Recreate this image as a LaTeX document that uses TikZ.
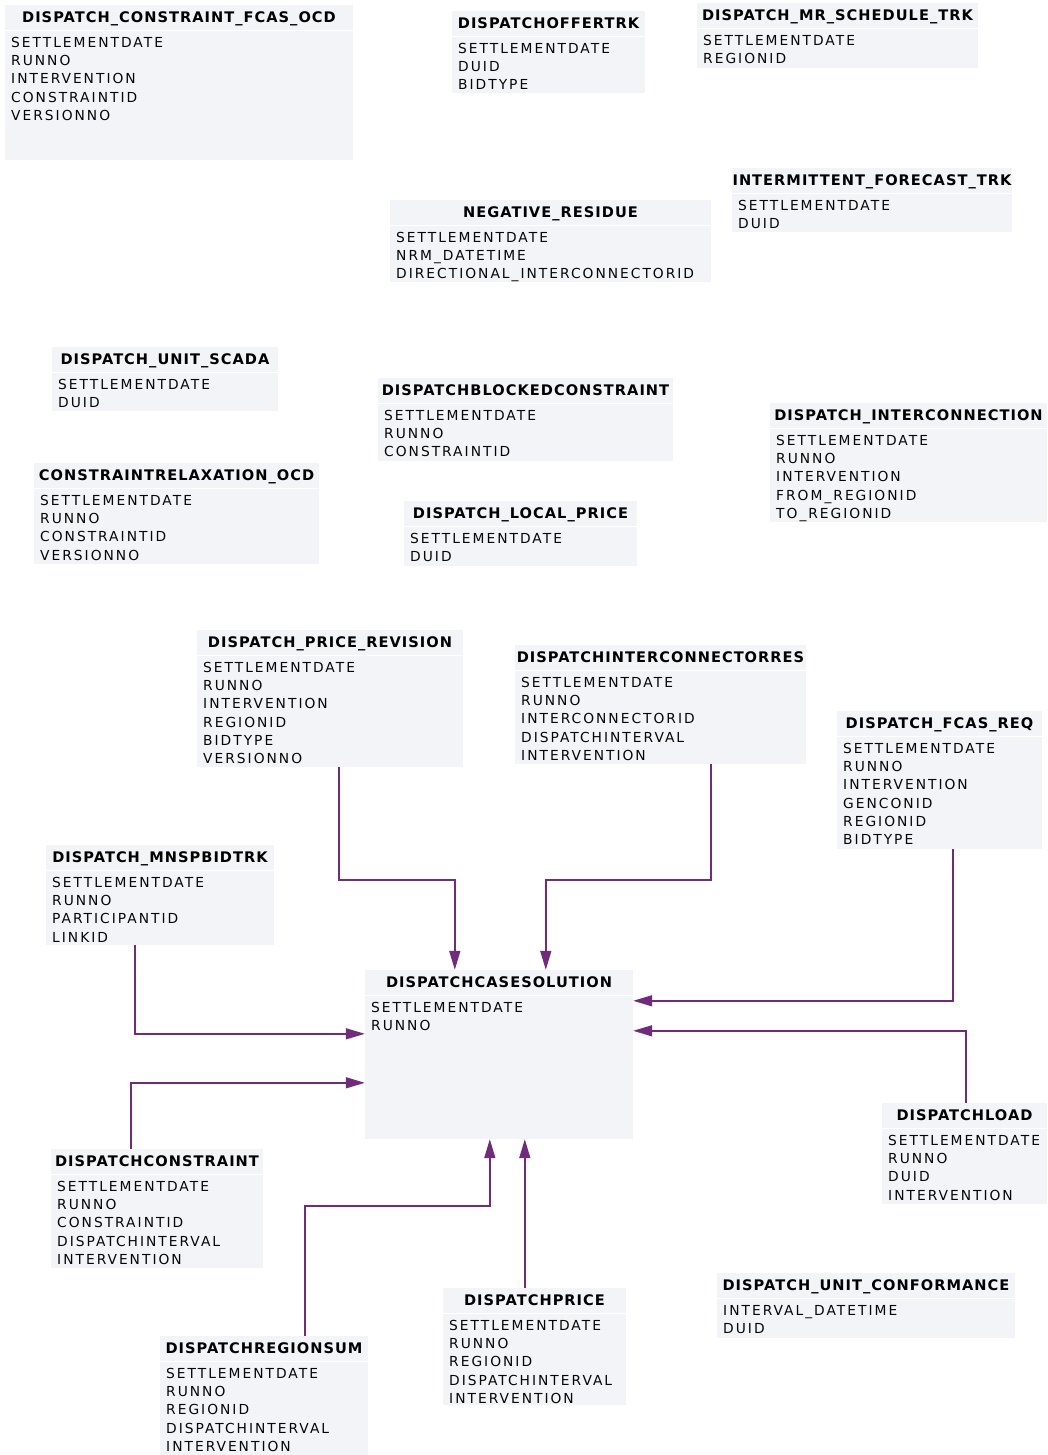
\documentclass[tikz,border=0pt]{standalone}
\usepackage{fontspec}
\setmainfont{DejaVu Sans}
\newfontfamily\fldfont{DejaVu Sans}[LetterSpace=14.5]
\newfontfamily\ttlfont{DejaVu Sans}[LetterSpace=7]
\usetikzlibrary{arrows.meta,fit}
\definecolor{tblbg}{RGB}{243,244,248}
\definecolor{linkc}{RGB}{112,44,122}
\definecolor{fldc}{RGB}{5,5,5}
\tikzset{
  ttl/.style={inner sep=0, text height=10.6pt, text depth=0pt, font=\ttlfont\bfseries\fontsize{14.6}{17}\selectfont, text=black},
  fld/.style={anchor=west, inner sep=0, text height=10pt, text depth=0pt, font=\fldfont\fontsize{13.8}{16}\selectfont, text=fldc},
  link/.style={draw=linkc, line width=1.5pt, -{Triangle[length=19pt,width=11pt]}},
}
\newcommand\erbox[7]{%
  \fill[tblbg] (#2,#3) rectangle (#4,#5);
  \node[inner sep=0, fit={(#2,#3) (#4,#5)}] (#1) {};
  \draw[white, line width=1.5pt] (#2,#3+25.5) -- (#4,#3+25.5);
  \node[ttl] (#1-t) at ({(#2+#4)/2},#3+12.5) {#6};
  \foreach \f [count=\i from 0] in {#7} {\node[fld] (#1-\i) at (#2+6,{#3+37.5+18.2*\i}) {\f};}
}
\begin{document}
\begin{tikzpicture}[x=1pt,y=-1pt]
\useasboundingbox (0,0) rectangle (1047,1455);
\erbox{ocd}{5}{5}{353}{160}{DISPATCH\_CONSTRAINT\_FCAS\_OCD}{SETTLEMENTDATE,RUNNO,INTERVENTION,CONSTRAINTID,VERSIONNO}
\erbox{offer}{452}{11}{645}{93}{DISPATCHOFFERTRK}{SETTLEMENTDATE,DUID,BIDTYPE}
\erbox{mrs}{697}{3}{978}{68}{DISPATCH\_MR\_SCHEDULE\_TRK}{SETTLEMENTDATE,REGIONID}
\erbox{ift}{732}{168}{1012}{232}{INTERMITTENT\_FORECAST\_TRK}{SETTLEMENTDATE,DUID}
\erbox{nr}{390}{200}{711}{282}{NEGATIVE\_RESIDUE}{SETTLEMENTDATE,NRM\_DATETIME,DIRECTIONAL\_INTERCONNECTORID}
\erbox{scada}{52}{347}{278}{411}{DISPATCH\_UNIT\_SCADA}{SETTLEMENTDATE,DUID}
\erbox{blk}{378}{378}{673}{461}{DISPATCHBLOCKEDCONSTRAINT}{SETTLEMENTDATE,RUNNO,CONSTRAINTID}
\erbox{ic}{770}{403}{1047}{522}{DISPATCH\_INTERCONNECTION}{SETTLEMENTDATE,RUNNO,INTERVENTION,FROM\_REGIONID,TO\_REGIONID}
\erbox{crx}{34}{463}{319}{564}{CONSTRAINTRELAXATION\_OCD}{SETTLEMENTDATE,RUNNO,CONSTRAINTID,VERSIONNO}
\erbox{lp}{404}{501}{637}{566}{DISPATCH\_LOCAL\_PRICE}{SETTLEMENTDATE,DUID}
\erbox{pr}{197}{630}{463}{767}{DISPATCH\_PRICE\_REVISION}{SETTLEMENTDATE,RUNNO,INTERVENTION,REGIONID,BIDTYPE,VERSIONNO}
\erbox{icr}{515}{645}{806}{764}{DISPATCHINTERCONNECTORRES}{SETTLEMENTDATE,RUNNO,INTERCONNECTORID,DISPATCHINTERVAL,INTERVENTION}
\erbox{fcr}{837}{711}{1042}{849}{DISPATCH\_FCAS\_REQ}{SETTLEMENTDATE,RUNNO,INTERVENTION,GENCONID,REGIONID,BIDTYPE}
\erbox{mnsp}{46}{845}{274}{945}{DISPATCH\_MNSPBIDTRK}{SETTLEMENTDATE,RUNNO,PARTICIPANTID,LINKID}
\erbox{cs}{365}{970}{633}{1139}{DISPATCHCASESOLUTION}{SETTLEMENTDATE,RUNNO}
\erbox{load}{882}{1103}{1047}{1204}{DISPATCHLOAD}{SETTLEMENTDATE,RUNNO,DUID,INTERVENTION}
\erbox{dc}{51}{1149}{263}{1268}{DISPATCHCONSTRAINT}{SETTLEMENTDATE,RUNNO,CONSTRAINTID,DISPATCHINTERVAL,INTERVENTION}
\erbox{conf}{717}{1273}{1015}{1338}{DISPATCH\_UNIT\_CONFORMANCE}{INTERVAL\_DATETIME,DUID}
\erbox{dp}{443}{1288}{626}{1405}{DISPATCHPRICE}{SETTLEMENTDATE,RUNNO,REGIONID,DISPATCHINTERVAL,INTERVENTION}
\erbox{rs}{160}{1336}{368}{1455}{DISPATCHREGIONSUM}{SETTLEMENTDATE,RUNNO,REGIONID,DISPATCHINTERVAL,INTERVENTION}
\draw[link] ([xshift=142pt]pr.south west) -- ++(0,113) -| ([xshift=90pt]cs.north west);
\draw[link] ([xshift=196pt]icr.south west) -- ++(0,116) -| ([xshift=181pt]cs.north west);
\draw[link] ([xshift=116pt]fcr.south west) |- ([yshift=-31pt]cs.north east);
\draw[link] ([xshift=84pt]load.north west) |- ([yshift=-61pt]cs.north east);
\draw[link] ([xshift=89pt]mnsp.south west) |- ([yshift=-64pt]cs.north west);
\draw[link] ([xshift=80pt]dc.north west) |- ([yshift=-113pt]cs.north west);
\draw[link] ([xshift=145pt]rs.north west) -- ++(0,-130) -| ([xshift=125pt]cs.south west);
\draw[link] ([xshift=82pt]dp.north west) -- ([xshift=160pt]cs.south west);
\end{tikzpicture}
\end{document}
